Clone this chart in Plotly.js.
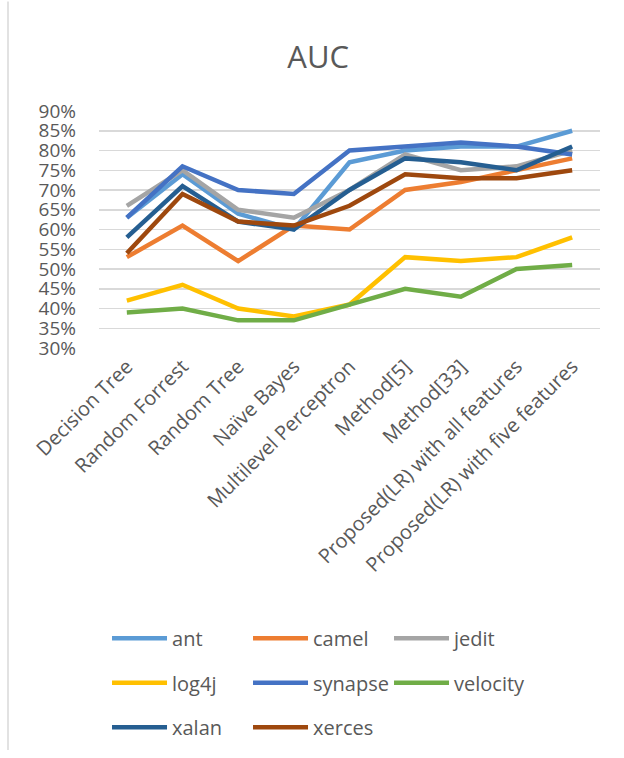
<!DOCTYPE html>
<html>
<head>
<meta charset="utf-8">
<script src="https://cdn.plot.ly/plotly-3.0.1.min.js"></script>
<style>html,body{margin:0;padding:0;background:#fff;}#chart{width:624px;height:758px;}</style>
</head>
<body>
<div id="chart"></div>
<script>
const categories = ["Decision Tree", "Random Forrest", "Random Tree", "Naïve Bayes", "Multilevel Perceptron", "Method[5]", "Method[33]", "Proposed(LR) with all features", "Proposed(LR) with five features"];
const ant      = [0.63, 0.74, 0.64, 0.60, 0.77, 0.80, 0.81, 0.81, 0.85];
const camel    = [0.53, 0.61, 0.52, 0.61, 0.60, 0.70, 0.72, 0.75, 0.78];
const jedit    = [0.66, 0.75, 0.65, 0.63, 0.70, 0.79, 0.75, 0.76, 0.80];
const log4j    = [0.42, 0.46, 0.40, 0.38, 0.41, 0.53, 0.52, 0.53, 0.58];
const synapse  = [0.63, 0.76, 0.70, 0.69, 0.80, 0.81, 0.82, 0.81, 0.79];
const velocity = [0.39, 0.40, 0.37, 0.37, 0.41, 0.45, 0.43, 0.50, 0.51];
const xalan    = [0.58, 0.71, 0.62, 0.60, 0.70, 0.78, 0.77, 0.75, 0.81];
const xerces   = [0.54, 0.69, 0.62, 0.61, 0.66, 0.74, 0.73, 0.73, 0.75];
const seriesNames = ["ant", "camel", "jedit", "log4j", "synapse", "velocity", "xalan", "xerces"];
const seriesValues = [ant, camel, jedit, log4j, synapse, velocity, xalan, xerces];
const colors = ["#5B9BD5", "#ED7D31", "#A5A5A5", "#FFC000", "#4472C4", "#70AD47", "#255E91", "#9E480E"];
const legendFor = ["legend", "legend", "legend", "legend2", "legend2", "legend2", "legend3", "legend3"];
const yTickVals = [0.30, 0.35, 0.40, 0.45, 0.50, 0.55, 0.60, 0.65, 0.70, 0.75, 0.80, 0.85, 0.90];

const textColor = "#595959";
const fontFam = "'Open Sans', sans-serif";

const traces = seriesNames.map((n, i) => ({
  type: "scatter",
  mode: "lines",
  name: n,
  x: categories,
  y: seriesValues[i],
  line: {color: colors[i], width: 4.5},
  legend: legendFor[i],
  hoverinfo: "skip"
}));

function leg(y) {
  return {
    orientation: "h",
    x: 0.016, xanchor: "left",
    y: y, yanchor: "middle",
    entrywidth: 71, entrywidthmode: "pixels",
    itemwidth: 55,
    font: {family: fontFam, size: 20, color: textColor},
    bgcolor: "rgba(0,0,0,0)",
    traceorder: "normal"
  };
}

const H = 240, plotBottom = 351;
function py(p) { return (plotBottom - p) / H; }

const layout = {
  width: 624, height: 758,
  margin: {l: 99, r: 24, t: 111, b: 407},
  paper_bgcolor: "#fff", plot_bgcolor: "#fff",
  font: {family: fontFam, color: textColor},
  title: {text: "AUC", font: {family: fontFam, size: 31, color: textColor}, x: 0.51, xanchor: "center", y: 1 - 57/758, yanchor: "middle"},
  showlegend: true,
  xaxis: {
    type: "category",
    range: [-0.5, 8.5],
    tickangle: -45,
    tickfont: {family: fontFam, size: 20, color: textColor},
    showgrid: false, zeroline: false, showline: false, ticks: "",
    ticklabelstandoff: 2,
    fixedrange: true
  },
  yaxis: {
    range: [0.30, 0.90],
    tickvals: yTickVals,
    tickformat: ".0%",
    tickfont: {family: fontFam, size: 19, color: textColor},
    showgrid: true, gridcolor: "#D9D9D9", gridwidth: 1.5,
    zeroline: false, showline: false, ticks: "",
    ticklabelstandoff: 22,
    fixedrange: true
  },
  legend: leg(py(645)),
  legend2: leg(py(690)),
  legend3: leg(py(735)),
  shapes: [{
    type: "line", xref: "paper", yref: "paper",
    x0: (8 - 99) / 501, x1: (8 - 99) / 501,
    y0: py(0), y1: py(758),
    line: {color: "#D9D9D9", width: 1.5}
  }]
};

Plotly.newPlot("chart", traces, layout, {displayModeBar: false, staticPlot: true});
</script>
</body>
</html>
